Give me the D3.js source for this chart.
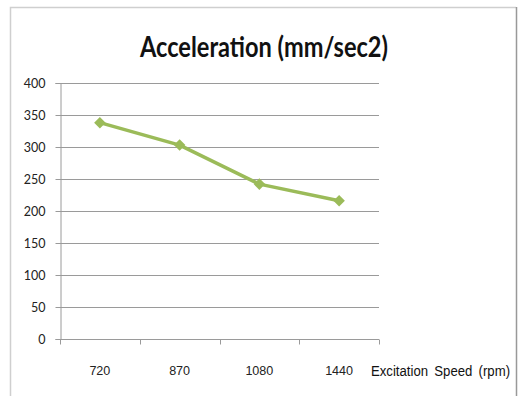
<!DOCTYPE html>
<html>
<head>
<meta charset="utf-8">
<script src="https://cdn.jsdelivr.net/npm/d3@7"></script>
<style>
  html, body { margin: 0; padding: 0; background: #fff; }
  svg { display: block; }
</style>
</head>
<body>
<svg id="chart" width="526" height="396"></svg>
<script>
// Excitation speeds (rpm) and measured acceleration (mm/sec2)
const categories = ["720", "870", "1080", "1440"];
const acceleration = [338, 303, 242, 216];
const yTicks = [0, 50, 100, 150, 200, 250, 300, 350, 400];

const svg = d3.select("#chart");
const W = 526, H = 396;
const plot = { left: 60, right: 379, top: 83, bottom: 339 };
const frame = { left: 10, top: 7, right: 516 };

const x = d3.scaleBand().domain(categories).range([plot.left, plot.right]);
const y = d3.scaleLinear().domain([0, 400]).range([plot.bottom, plot.top]);

// chart frame: left and top edges
svg.append("path")
  .attr("d", `M${frame.left + 0.5},${H} V${frame.top + 0.5} H${frame.right}`)
  .attr("fill", "none").attr("stroke", "#cfcfcf").attr("stroke-width", 1.5);

// title
svg.append("text")
  .attr("x", 264).attr("y", 57)
  .attr("text-anchor", "middle")
  .attr("font-family", "Lato, 'Open Sans', sans-serif")
  .attr("font-weight", "bold")
  .attr("font-size", 28)
  .attr("textLength", 248)
  .attr("lengthAdjust", "spacingAndGlyphs")
  .attr("fill", "#111")
  .text("Acceleration (mm/sec2)");

// horizontal gridlines
svg.append("g")
  .selectAll("line")
  .data(yTicks.filter(d => d > 0))
  .join("line")
  .attr("x1", plot.left).attr("x2", plot.right)
  .attr("y1", d => Math.round(y(d)) + 0.5).attr("y2", d => Math.round(y(d)) + 0.5)
  .attr("stroke", "#9a9a9a").attr("stroke-width", 1);

// y axis
const yAxis = svg.append("g")
  .attr("transform", `translate(${plot.left + 0.5},0)`)
  .call(d3.axisLeft(y).tickValues(yTicks).tickSize(5).tickPadding(10).tickFormat(d3.format("d")));
yAxis.select(".domain").attr("stroke", "#9a9a9a");
yAxis.selectAll(".tick line").attr("stroke", "#9a9a9a");
yAxis.selectAll(".tick text")
  .attr("font-family", "Lato, 'Open Sans', sans-serif")
  .attr("font-size", 12.5)
  .attr("fill", "#222");

// x axis with tick marks between categories
const xAxis = svg.append("g")
  .attr("transform", `translate(0,${plot.bottom + 0.5})`);
xAxis.append("line")
  .attr("x1", plot.left).attr("x2", plot.right)
  .attr("stroke", "#9a9a9a");
const edges = categories.map(c => x(c)).concat([x(categories[categories.length - 1]) + x.bandwidth()]);
xAxis.selectAll("line.tk")
  .data(edges)
  .join("line").attr("class", "tk")
  .attr("x1", d => Math.round(d) + 0.5).attr("x2", d => Math.round(d) + 0.5)
  .attr("y1", 0).attr("y2", 5)
  .attr("stroke", "#9a9a9a");
xAxis.selectAll("text")
  .data(categories)
  .join("text")
  .attr("x", d => x(d) + x.bandwidth() / 2)
  .attr("y", 35.5)
  .attr("text-anchor", "middle")
  .attr("font-family", "'Liberation Sans', Arial, sans-serif")
  .attr("font-size", 13)
  .attr("textLength", d => d.length * 7)
  .attr("lengthAdjust", "spacingAndGlyphs")
  .attr("fill", "#222")
  .text(d => d);

// x axis title, horizontally condensed
svg.append("text")
  .attr("transform", "translate(371,376) scale(0.85,1)")
  .attr("font-family", "'Liberation Sans', Arial, sans-serif")
  .attr("font-size", 15.5)
  .attr("word-spacing", 3)
  .attr("fill", "#111")
  .text("Excitation Speed (rpm)");

// series line
const pts = categories.map((c, i) => [x(c) + x.bandwidth() / 2, y(acceleration[i])]);
svg.append("path")
  .attr("d", d3.line()(pts))
  .attr("fill", "none")
  .attr("stroke", "#9bbb59")
  .attr("stroke-width", 3.5)
  .attr("stroke-linejoin", "round");

// diamond markers
svg.append("g")
  .selectAll("path")
  .data(pts)
  .join("path")
  .attr("transform", d => `translate(${d[0]},${d[1]})`)
  .attr("d", d3.symbol(d3.symbolDiamond2, 85)())
  .attr("fill", "#9bbb59");

// right edge of the frame
svg.append("line")
  .attr("x1", frame.right + 0.5).attr("x2", frame.right + 0.5).attr("y1", frame.top).attr("y2", H)
  .attr("stroke", "#999").attr("stroke-width", 1.5);
</script>
</body>
</html>
